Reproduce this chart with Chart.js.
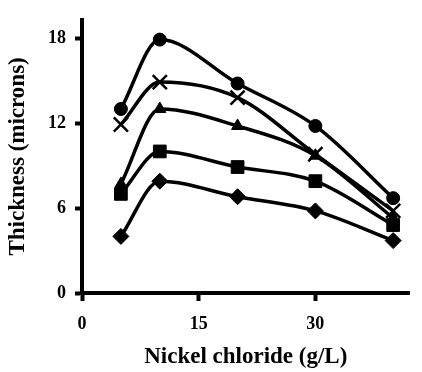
<!DOCTYPE html>
<html>
<head>
<meta charset="utf-8">
<script src="https://cdn.jsdelivr.net/npm/chart.js@4.4.1/dist/chart.umd.min.js"></script>
<style>
  html, body { margin: 0; padding: 0; background: #fff; }
  #wrap { width: 422px; height: 372px; }
</style>
</head>
<body>
<div id="wrap"><canvas id="myChart" width="422" height="372"></canvas></div>
<script>
// nickel chloride concentration (g/L)
const nickelChloride = [5, 10, 20, 30, 40];

// thickness (microns) for each curve, named by marker
const circleSeries = [13.0, 17.9, 14.8, 11.8, 6.7];
const crossSeries = [11.9, 14.9, 13.8, 9.8, 5.8];
const triangleSeries = [7.7, 13.0, 11.8, 9.7, 5.3];
const squareSeries = [7.0, 10.0, 8.9, 7.9, 4.8];
const diamondSeries = [4.0, 7.9, 6.8, 5.8, 3.7];

const xTicks = [0, 15, 30];
const yTicks = [0, 6, 12, 18];

const serif = 'Liberation Serif, Times New Roman, serif';

const toPoints = (ys) => nickelChloride.map((x, i) => ({ x: x, y: ys[i] }));

const makeSet = (label, ys, style, radius) => ({
  label: label,
  data: toPoints(ys),
  borderColor: '#000',
  backgroundColor: '#000',
  borderWidth: 3.5,
  pointStyle: style,
  pointRadius: radius,
  pointBorderWidth: style === 'crossRot' ? 2.5 : 1,
  pointBackgroundColor: '#000',
  pointBorderColor: '#000',
  cubicInterpolationMode: 'monotone',
  fill: false
});

const ctx = document.getElementById('myChart').getContext('2d');

new Chart(ctx, {
  type: 'line',
  data: {
    datasets: [
      makeSet('circle', circleSeries, 'circle', 6.5),
      makeSet('cross', crossSeries, 'crossRot', 10),
      makeSet('triangle', triangleSeries, 'triangle', 7),
      makeSet('square', squareSeries, 'rect', 9),
      makeSet('diamond', diamondSeries, 'rectRot', 8)
    ]
  },
  options: {
    responsive: false,
    animation: false,
    layout: { padding: { top: 12, right: 0, left: 0, bottom: 0 } },
    plugins: {
      legend: { display: false },
      tooltip: { enabled: false }
    },
    scales: {
      x: {
        type: 'linear',
        min: 0,
        max: 42.1,
        afterFit: (scale) => { scale.height = 79; },
        afterBuildTicks: (scale) => { scale.ticks = xTicks.map(v => ({ value: v })); },
        border: { display: true, color: '#000', width: 4 },
        grid: {
          drawOnChartArea: false,
          drawTicks: true,
          tickLength: 8,
          tickWidth: 4,
          tickColor: '#000'
        },
        ticks: {
          color: '#000',
          padding: 13,
          maxRotation: 0,
          font: { family: serif, size: 18, weight: 'bold' }
        },
        title: {
          display: true,
          text: 'Nickel chloride (g/L)',
          color: '#000',
          padding: { top: 4, bottom: 1 },
          font: { family: serif, size: 23, weight: 'bold' }
        }
      },
      y: {
        min: 0,
        max: 19.3,
        afterFit: (scale) => { scale.width = 82; },
        afterBuildTicks: (scale) => { scale.ticks = yTicks.map(v => ({ value: v })); },
        border: { display: true, color: '#000', width: 4 },
        grid: {
          drawOnChartArea: false,
          drawTicks: true,
          tickLength: 7,
          tickWidth: 4,
          tickColor: '#000'
        },
        ticks: {
          color: '#000',
          padding: 9,
          font: { family: serif, size: 18, weight: 'bold' }
        },
        title: {
          display: true,
          text: 'Thickness (microns)',
          color: '#000',
          padding: { top: 4, bottom: 4 },
          font: { family: serif, size: 23, weight: 'bold' }
        }
      }
    }
  }
});
</script>
</body>
</html>
